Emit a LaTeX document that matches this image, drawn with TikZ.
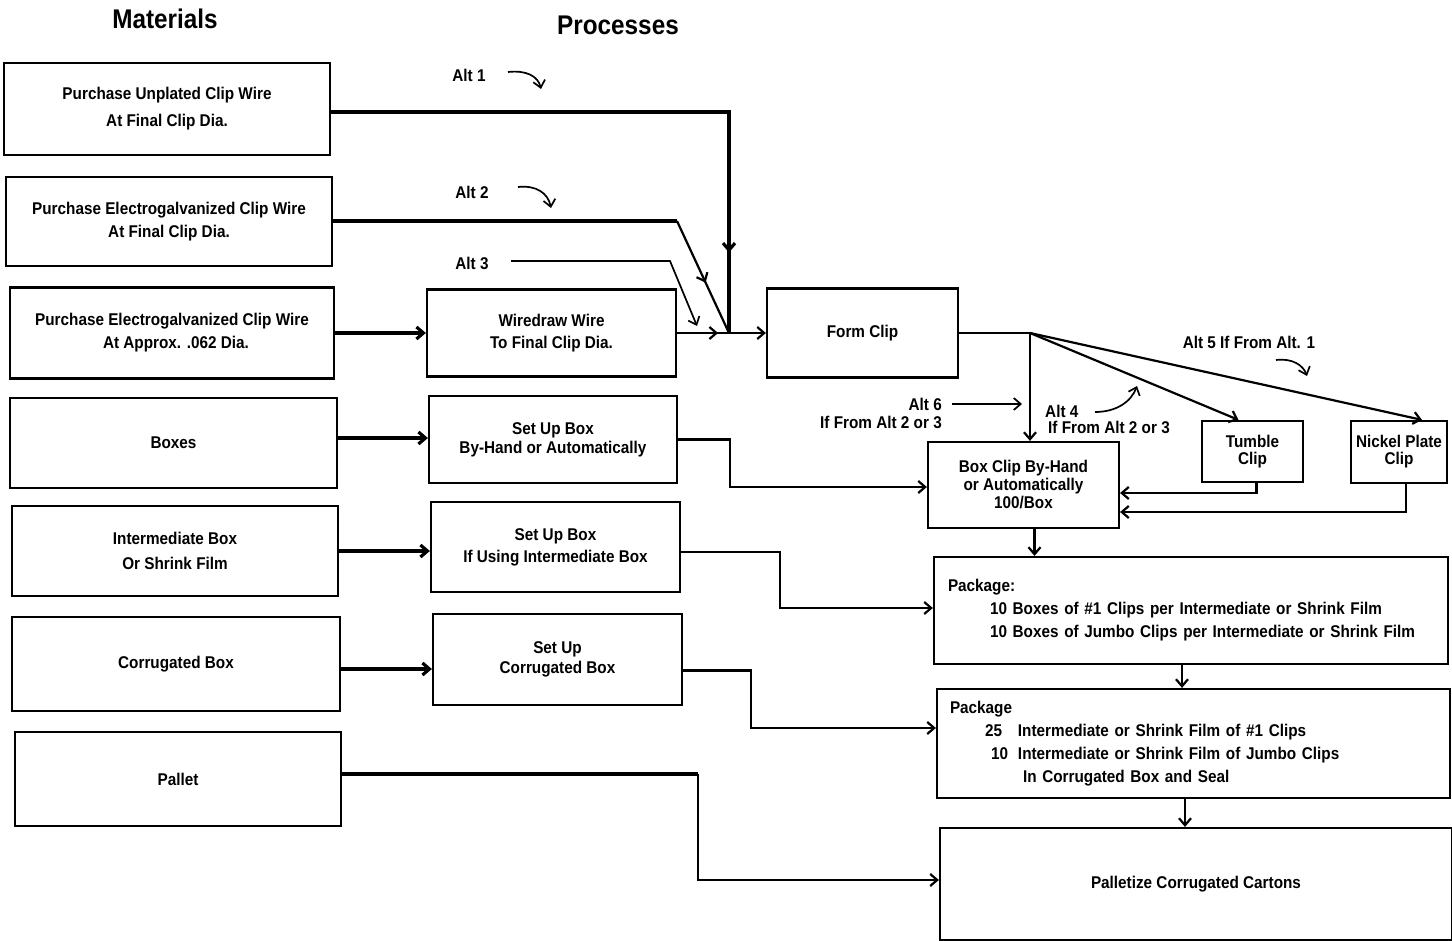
\documentclass[tikz,border=0pt]{standalone}
\usepackage{fontspec}
\setmainfont{Liberation Sans}[FakeStretch=0.9]
\usetikzlibrary{arrows.meta,calc,decorations.markings}
\begin{document}
\begin{tikzpicture}[x=1pt,y=-1pt,
  >={Straight Barb[length=7pt,width=12pt]},
  bx/.style={draw, line width=2.2pt, inner sep=0pt, align=center, font=\fontsize{17}{23}\selectfont\bfseries},
  ls/.style={font=\fontsize{17}{#1}\selectfont\bfseries},
  lbl/.style={inner sep=0pt, font=\fontsize{17}{18}\selectfont\bfseries},
  ttl/.style={inner sep=0pt, font=\fontsize{27}{30}\selectfont\bfseries},
  heavy/.style={line width=3.2pt},
  conn/.style={line width=2.2pt},
  thin/.style={line width=1.7pt},
  midarrow/.style={postaction={decorate}, decoration={markings, mark=at position #1 with {\arrow{>}}}},
]
\useasboundingbox (0,0) rectangle (1452,941);
\fill[white] (0,0) rectangle (1452,941);

% titles
\node[ttl] (tm) at (165,19) {Materials};
\node[ttl] (tp) at (618,25) {Processes};

% materials
\node[bx, ls=27, minimum width=326, minimum height=92] (m1) at (167,109) {Purchase Unplated Clip Wire\\At Final Clip Dia.};
\node[bx, minimum width=326, minimum height=89] (m2) at (169,221.5) {Purchase Electrogalvanized Clip Wire\\At Final Clip Dia.};
\node[bx, minimum width=324, minimum height=91] (m3) at (172,333) {Purchase Electrogalvanized Clip Wire\\\hspace*{8pt}At Approx. .062 Dia.};
\node[bx, minimum width=327, minimum height=90] (m4) at (173.5,443) {Boxes};
\node[bx, ls=25, minimum width=326, minimum height=90] (m5) at (175,551) {Intermediate Box\\Or Shrink Film};
\node[bx, minimum width=328, minimum height=94] (m6) at (176,664) {Corrugated Box};
\node[bx, minimum width=326, minimum height=94] (m7) at (178,779) {Pallet};

% processes
\node[bx, ls=22, minimum width=249, minimum height=87] (p1) at (551.5,333) {Wiredraw Wire\\To Final Clip Dia.};
\node[bx, ls=19, minimum width=248, minimum height=87] (p2) at (553,439.5) {Set Up Box\\By-Hand or Automatically};
\node[bx, ls=22, minimum width=249, minimum height=90] (p3) at (555.5,547) {Set Up Box\\If Using Intermediate Box};
\node[bx, ls=20, minimum width=249, minimum height=91] (p4) at (557.5,659.5) {Set Up\\Corrugated Box};

\node[bx, minimum width=191, minimum height=89] (fc) at (862.5,333) {Form Clip};
\node[bx, ls=18, minimum width=191, minimum height=86] (bc) at (1023.5,485) {Box Clip By-Hand\\or Automatically\\100/Box};
\node[bx, ls=17, minimum width=101, minimum height=61] (tc) at (1252.5,451.5) {Tumble\\Clip};
\node[bx, ls=17, minimum width=96, minimum height=62] (nk) at (1399,452) {Nickel Plate\\Clip};

\node[bx, minimum width=514, minimum height=107, text width=486, align=left] (pk1) at (1191,610.5)
  {Package:\\\hspace*{42pt}10 Boxes of \#1 Clips per Intermediate or Shrink Film\\\hspace*{42pt}10 Boxes of Jumbo Clips per Intermediate or Shrink Film};
\node[bx, minimum width=513, minimum height=109, text width=487, align=left] (pk2) at (1193.5,743.5)
  {Package\\\hspace*{35pt}\makebox[33pt][l]{25}Intermediate or Shrink Film of \#1 Clips\\\hspace*{41pt}\makebox[27pt][l]{10}Intermediate or Shrink Film of Jumbo Clips\\\hspace*{73pt}In Corrugated Box and Seal};
\node[bx, minimum width=512, minimum height=112] (pd) at (1196,884) {Palletize Corrugated Cartons};

% alt labels
\node[lbl] (a1) at (469,75) {Alt 1};
\node[lbl] (a2) at (472,192) {Alt 2};
\node[lbl] (a3) at (472,263) {Alt 3};
\node[lbl, align=right, anchor=east] (a6) at (942,413) {Alt 6\\If From Alt 2 or 3};
\node[lbl, align=left, anchor=west, font=\fontsize{17}{16}\selectfont\bfseries] (a4) at (1045,419) {Alt 4\\\hspace*{3pt}If From Alt 2 or 3};
\node[lbl] (a5) at (1249,342) {Alt 5 If From Alt. 1};

% free coordinates
\coordinate (j) at (729,333);
\coordinate (k2) at (677,221);
\coordinate (a3s) at (511,261);
\coordinate (a3k) at (670,261);
\coordinate (a3e) at (697,326);
\coordinate (br) at (1030,333);
\coordinate (c1s) at (508,72);   \coordinate (c1e) at (541,89);
\coordinate (c2s) at (518,187);  \coordinate (c2e) at (551,208);
\coordinate (c4s) at (1095,412); \coordinate (c4e) at (1137,386);
\coordinate (c5s) at (1276,360); \coordinate (c5e) at (1307,376);
\coordinate (a6s) at (952,404);  \coordinate (a6e) at (1022,404);

% curved alt arrows
\draw[thin,->] (c1s) .. controls (526,70) and (538,76) .. (c1e);
\draw[thin,->] (c2s) .. controls (536,185) and (548,193) .. (c2e);
\draw[thin,->] (c4s) .. controls (1116,412) and (1131,402) .. (c4e);
\draw[thin,->] (c5s) .. controls (1292,358) and (1303,365) .. (c5e);
\draw[thin,->] (a6s) -- (a6e);

% wire routes into Form Clip
\draw[heavy, midarrow=0.87] ($(m1.east)+(0,3)$) -| (j);
\draw[heavy] ($(m2.east)+(0,-0.5)$) -- (k2);
\draw[conn, midarrow=0.55] (k2) -- (j);
\draw[thin, ->] (a3s) -- (a3k) -- (a3e);
\draw[heavy, ->] (m3.east) -- (p1.west);
\draw[conn, midarrow=0.79] (p1.east) -- (j);
\draw[conn, ->] (j) -- (fc.west);

% branches from Form Clip
\draw[conn] (fc.east) -- (br);
\draw[conn, ->] (br) -- (br |- bc.north);
\draw[conn, ->] (br) -- ($(tc.north)+(-14,0)$);
\draw[conn, ->] (br) -- ($(nk.north)+(23,0)$);
\draw[conn, ->] ($(tc.south)+(4,0)$) |- ($(bc.east)+(0,8)$);
\draw[conn, ->] ($(nk.south)+(7,0)$) |- ($(bc.east)+(0,27)$);

% materials to processes
\draw[heavy, ->] ($(m4.east)+(0,-5)$) -- ($(p2.west)+(0,-1.5)$);
\draw[heavy, ->] (m5.east) -- ($(p3.west)+(0,4)$);
\draw[heavy, ->] ($(m6.east)+(0,5)$) -- ($(p4.west)+(0,9.5)$);

% processes to packaging
\draw[conn, ->] (p2.east) -- ++(52,0) |- ($(bc.west)+(0,2)$);
\draw[conn, ->] ($(p3.east)+(0,5)$) -- ++(99,0) |- ($(pk1.west)+(0,-2.5)$);
\draw[conn, ->] ($(p4.east)+(0,11)$) -- ++(68,0) |- ($(pk2.west)+(0,-15.5)$);
\draw[heavy] ($(m7.east)+(0,-5)$) -- ++(356,0) coordinate (pl);
\draw[conn, ->] (pl) |- ($(pd.west)+(0,-4)$);

% vertical flow on the right
\coordinate (bcs) at ($(bc.south)+(11,0)$);
\draw[conn, ->] (bcs) -- (bcs |- pk1.north);
\coordinate (pk1s) at ($(pk1.south)+(-9,0)$);
\draw[conn, ->] (pk1s) -- (pk1s |- pk2.north);
\coordinate (pk2s) at ($(pk2.south)+(-8.5,0)$);
\draw[conn, ->] (pk2s) -- (pk2s |- pd.north);
\end{tikzpicture}
\end{document}
